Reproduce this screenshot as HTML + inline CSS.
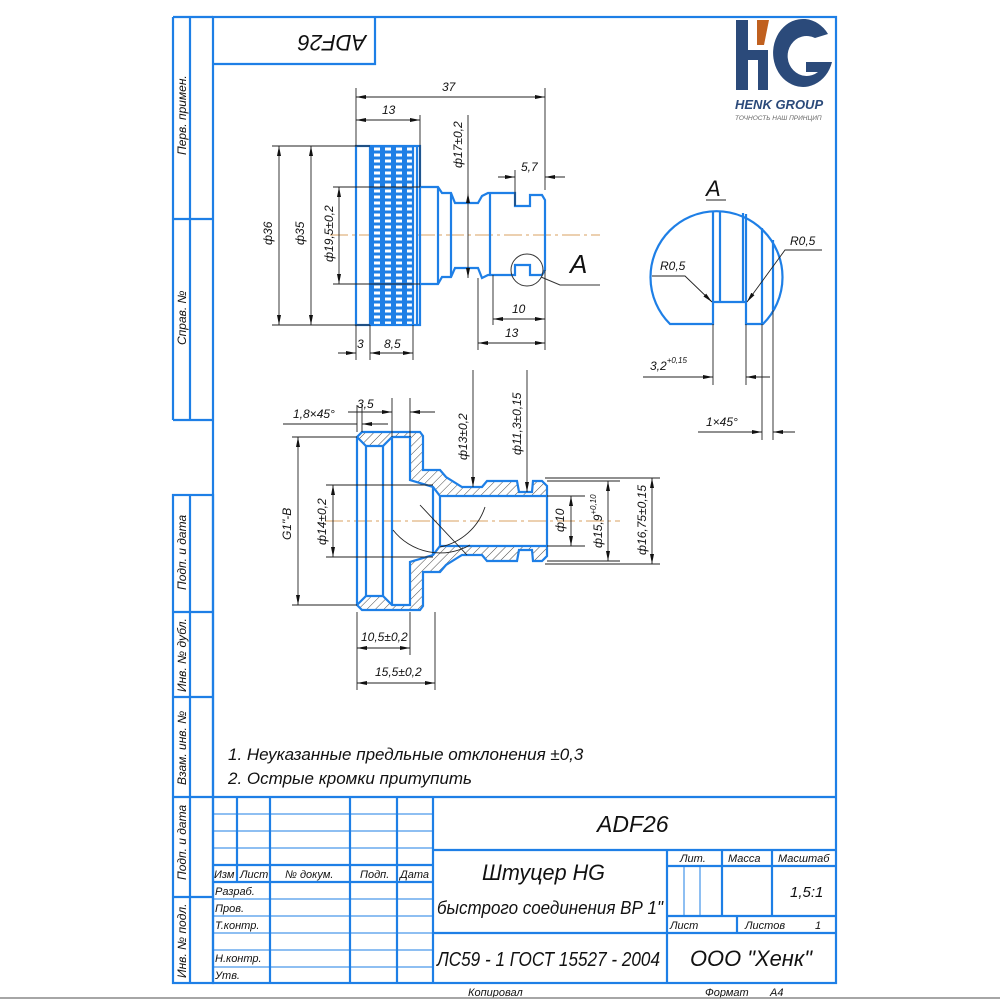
<!DOCTYPE html>
<html><head><meta charset="utf-8"><style>
html,body{margin:0;padding:0;background:#fff}
svg{display:block}
text{font-family:"Liberation Sans",sans-serif;font-style:italic;fill:#111}
</style></head><body>
<svg width="1000" height="1000" viewBox="0 0 1000 1000" xmlns="http://www.w3.org/2000/svg">
<defs>
<pattern id="h" width="6" height="6" patternUnits="userSpaceOnUse" patternTransform="rotate(45)">
<line x1="0" y1="0" x2="0" y2="6" stroke="#333" stroke-width="0.9"/></pattern>
<pattern id="k" x="371" y="146" width="11" height="6" patternUnits="userSpaceOnUse">
<rect x="0" y="0" width="11" height="6" fill="#1e7fe6"/><rect x="3" y="1.5" width="6" height="3" fill="#fff"/></pattern>
<marker id="a" viewBox="0 0 10 4" refX="10" refY="2" markerWidth="10" markerHeight="4" orient="auto-start-reverse" markerUnits="userSpaceOnUse"><path d="M0,0L10,2L0,4z" fill="#111"/></marker>
</defs>
<g fill="none" stroke="#1e7fe6" stroke-width="2.2">
<rect x="213" y="17" width="623" height="966"/>
<line x1="173" y1="17" x2="213" y2="17"/><line x1="173" y1="17" x2="173" y2="420"/><line x1="190" y1="17" x2="190" y2="420"/>
<line x1="173" y1="219" x2="213" y2="219"/><line x1="173" y1="420" x2="213" y2="420"/>
<rect x="173" y="495" width="40" height="488"/><line x1="190" y1="495" x2="190" y2="983"/>
<line x1="173" y1="612" x2="213" y2="612"/><line x1="173" y1="697" x2="213" y2="697"/><line x1="173" y1="797" x2="213" y2="797"/><line x1="173" y1="897" x2="213" y2="897"/>
<polyline points="213,64 375,64 375,17"/>
<line x1="213" y1="797" x2="836" y2="797"/><line x1="433" y1="850" x2="836" y2="850"/>
<line x1="433" y1="797" x2="433" y2="983"/>
<line x1="237" y1="797" x2="237" y2="882"/><line x1="270" y1="797" x2="270" y2="983"/><line x1="350" y1="797" x2="350" y2="983"/><line x1="397" y1="797" x2="397" y2="983"/>
<line x1="213" y1="865" x2="433" y2="865"/><line x1="213" y1="882" x2="433" y2="882"/>
<line x1="433" y1="933" x2="836" y2="933"/><line x1="667" y1="850" x2="667" y2="983"/>
<line x1="722" y1="850" x2="722" y2="916"/><line x1="772" y1="850" x2="772" y2="916"/>
<line x1="667" y1="866" x2="836" y2="866"/><line x1="667" y1="916" x2="836" y2="916"/><line x1="737" y1="916" x2="737" y2="933"/>
</g>
<g stroke="#1e7fe6" stroke-width="1">
<line x1="213" y1="814" x2="433" y2="814"/><line x1="213" y1="831" x2="433" y2="831"/><line x1="213" y1="848" x2="433" y2="848"/>
<line x1="213" y1="899" x2="433" y2="899"/><line x1="213" y1="916" x2="433" y2="916"/><line x1="213" y1="933" x2="433" y2="933"/><line x1="213" y1="950" x2="433" y2="950"/><line x1="213" y1="967" x2="433" y2="967"/>
<line x1="684" y1="866" x2="684" y2="916"/><line x1="700" y1="866" x2="700" y2="916"/>
</g>
<line x1="330" y1="235" x2="600" y2="235" stroke="#d8a060" stroke-width="1" stroke-dasharray="18,4,3,4"/>
<rect x="370" y="146" width="43" height="179" fill="url(#k)"/>
<g fill="none" stroke="#1e7fe6" stroke-width="2.2">
<rect x="356" y="146" width="64" height="179"/>
<line x1="370" y1="146" x2="370" y2="325"/><line x1="413" y1="146" x2="413" y2="325"/><line x1="417" y1="146" x2="417" y2="325"/>
<path d="M420,187H438L442,193H451L455,203H478L482,196L488,193H515V206H530V195H542L545,200V270L542,275H530V265H515V275H488L482,278L478,268H455L451,277H442L438,284H420"/>
<line x1="438" y1="187" x2="438" y2="284"/><line x1="451" y1="193" x2="451" y2="277"/><line x1="490" y1="193" x2="490" y2="275"/>
</g>
<circle cx="527" cy="270" r="16" fill="none" stroke="#333" stroke-width="1"/>
<polyline points="541,277 560,285 600,285" fill="none" stroke="#333" stroke-width="1"/>
<text x="570" y="273" font-size="26" font-style="normal">A</text>
<g stroke="#222" stroke-width="0.9" fill="none">
<line x1="356" y1="88" x2="356" y2="146"/><line x1="545" y1="88" x2="545" y2="190"/><line x1="420" y1="115" x2="420" y2="187"/>
<line x1="356" y1="97" x2="545" y2="97" marker-start="url(#a)" marker-end="url(#a)"/>
<line x1="356" y1="120" x2="420" y2="120" marker-start="url(#a)" marker-end="url(#a)"/>
<line x1="272" y1="146" x2="370" y2="146"/><line x1="272" y1="325" x2="370" y2="325"/>
<line x1="279" y1="146" x2="279" y2="325" marker-start="url(#a)" marker-end="url(#a)"/>
<line x1="311" y1="146" x2="311" y2="325" marker-start="url(#a)" marker-end="url(#a)"/>
<line x1="333" y1="187" x2="420" y2="187"/><line x1="333" y1="284" x2="420" y2="284"/>
<line x1="339" y1="187" x2="339" y2="284" marker-start="url(#a)" marker-end="url(#a)"/>
<line x1="468" y1="115" x2="468" y2="193"/><line x1="468" y1="193" x2="468" y2="278" marker-start="url(#a)" marker-end="url(#a)"/>
<line x1="515" y1="170" x2="515" y2="206"/>
<line x1="498" y1="177" x2="515" y2="177" marker-end="url(#a)"/><line x1="545" y1="177" x2="565" y2="177" marker-start="url(#a)"/>
<line x1="493" y1="275" x2="493" y2="325"/><line x1="478" y1="278" x2="478" y2="350"/><line x1="545" y1="270" x2="545" y2="350"/>
<line x1="493" y1="319" x2="545" y2="319" marker-start="url(#a)" marker-end="url(#a)"/>
<line x1="478" y1="343" x2="545" y2="343" marker-start="url(#a)" marker-end="url(#a)"/>
<line x1="356" y1="325" x2="356" y2="360"/><line x1="370" y1="325" x2="370" y2="360"/><line x1="413" y1="325" x2="413" y2="360"/>
<line x1="338" y1="353" x2="356" y2="353" marker-end="url(#a)"/><line x1="370" y1="353" x2="413" y2="353" marker-start="url(#a)" marker-end="url(#a)"/>
</g>
<g font-size="12">
<text x="442" y="91">37</text><text x="382" y="114">13</text>
<text x="272" y="245" transform="rotate(-90 272 245)">ф36</text>
<text x="304" y="245" transform="rotate(-90 304 245)">ф35</text>
<text x="333" y="262" transform="rotate(-90 333 262)">ф19,5±0,2</text>
<text x="462" y="168" transform="rotate(-90 462 168)">ф17±0,2</text>
<text x="521" y="171">5,7</text><text x="512" y="313">10</text><text x="505" y="337">13</text>
<text x="357" y="348">3</text><text x="384" y="348">8,5</text>
</g>
<line x1="325" y1="521" x2="620" y2="521" stroke="#d8a060" stroke-width="1" stroke-dasharray="18,4,3,4"/>
<g stroke="#1e7fe6" stroke-width="2.2" fill="url(#h)">
<path d="M362,432H420L423,436V470H440L446,477L462,487H482L487,481H517L519,492H532L533,481H542L547,486V496H440L433,487L410,480V437H392L383,446H366L357,437Z"/>
<path d="M362,610H420L423,606V572H440L446,565L462,555H482L487,561H517L519,550H532L533,561H542L547,556V546H440L433,555L410,562V605H392L383,596H366L357,605Z"/>
</g>
<g stroke="#1e7fe6" stroke-width="2.2" fill="none">
<line x1="357" y1="437" x2="357" y2="605"/><line x1="366" y1="446" x2="366" y2="596"/><line x1="383" y1="446" x2="383" y2="596"/><line x1="392" y1="437" x2="392" y2="605"/>
<line x1="433" y1="487" x2="433" y2="555"/><line x1="440" y1="496" x2="440" y2="546"/><line x1="547" y1="496" x2="547" y2="546"/>
</g>
<g stroke="#222" stroke-width="0.9" fill="none">
<path d="M393,530 A60,60 0 0 0 470,545"/><path d="M440,547 A60,60 0 0 0 485,507"/>
<line x1="420" y1="505" x2="467" y2="555"/>
<line x1="292" y1="437" x2="357" y2="437"/><line x1="292" y1="605" x2="357" y2="605"/>
<line x1="298" y1="437" x2="298" y2="605" marker-start="url(#a)" marker-end="url(#a)"/>
<line x1="326" y1="485" x2="433" y2="485"/><line x1="326" y1="557" x2="433" y2="557"/>
<line x1="333" y1="485" x2="333" y2="557" marker-start="url(#a)" marker-end="url(#a)"/>
<line x1="547" y1="496" x2="585" y2="496"/><line x1="547" y1="546" x2="585" y2="546"/>
<line x1="571" y1="496" x2="571" y2="546" marker-start="url(#a)" marker-end="url(#a)"/>
<line x1="547" y1="481" x2="620" y2="481"/><line x1="547" y1="561" x2="620" y2="561"/>
<line x1="608" y1="481" x2="608" y2="561" marker-start="url(#a)" marker-end="url(#a)"/>
<line x1="545" y1="478" x2="660" y2="478"/><line x1="545" y1="564" x2="660" y2="564"/>
<line x1="652" y1="478" x2="652" y2="564" marker-start="url(#a)" marker-end="url(#a)"/>
<line x1="473" y1="370" x2="473" y2="487" marker-end="url(#a)"/>
<line x1="527" y1="370" x2="527" y2="492" marker-end="url(#a)"/>
<line x1="357" y1="612" x2="357" y2="690"/><line x1="410" y1="612" x2="410" y2="655"/><line x1="435" y1="612" x2="435" y2="690"/>
<line x1="357" y1="648" x2="410" y2="648" marker-start="url(#a)" marker-end="url(#a)"/>
<line x1="357" y1="683" x2="435" y2="683" marker-start="url(#a)" marker-end="url(#a)"/>
<line x1="357" y1="405" x2="357" y2="432"/><line x1="362" y1="405" x2="362" y2="432"/><line x1="392" y1="398" x2="392" y2="437"/><line x1="410" y1="398" x2="410" y2="437"/>
<line x1="283" y1="424" x2="357" y2="424"/><line x1="362" y1="424" x2="388" y2="424" marker-start="url(#a)"/>
<line x1="348" y1="412" x2="392" y2="412" marker-end="url(#a)"/><line x1="410" y1="412" x2="435" y2="412" marker-start="url(#a)"/>
</g>
<g font-size="12">
<text x="293" y="418">1,8×45°</text><text x="357" y="408">3,5</text>
<text x="291" y="540" transform="rotate(-90 291 540)">G1"-B</text>
<text x="326" y="545" transform="rotate(-90 326 545)">ф14±0,2</text>
<text x="467" y="460" transform="rotate(-90 467 460)">ф13±0,2</text>
<text x="521" y="455" transform="rotate(-90 521 455)">ф11,3±0,15</text>
<text x="564" y="532" transform="rotate(-90 564 532)">ф10</text>
<text x="602" y="548" transform="rotate(-90 602 548)">ф15,9<tspan font-size="8" dy="-6">+0,10</tspan></text>
<text x="646" y="555" transform="rotate(-90 646 555)">ф16,75±0,15</text>
<text x="361" y="641">10,5±0,2</text><text x="375" y="676">15,5±0,2</text>
</g>
<text x="706" y="196" font-size="22" font-style="normal">A</text>
<line x1="706" y1="200" x2="726" y2="200" stroke="#222" stroke-width="1"/>
<g stroke="#1e7fe6" stroke-width="2.2" fill="none">
<path d="M670,324 A66,66 0 1 1 763,324 H746 V302 H713 V324 Z"/>
<line x1="713" y1="212" x2="713" y2="302"/><line x1="720" y1="211" x2="720" y2="302"/>
<line x1="743" y1="213" x2="743" y2="302"/><line x1="746" y1="214" x2="746" y2="302"/>
<line x1="762" y1="228" x2="762" y2="324"/><line x1="773" y1="240" x2="773" y2="310"/>
</g>
<g stroke="#222" stroke-width="0.9" fill="none">
<polyline points="652,276 685,276 712,302" marker-end="url(#a)"/>
<polyline points="822,250 785,250 747,302" marker-end="url(#a)"/>
<line x1="713" y1="324" x2="713" y2="385"/><line x1="746" y1="324" x2="746" y2="385"/><line x1="762" y1="324" x2="762" y2="440"/><line x1="773" y1="310" x2="773" y2="440"/>
<line x1="643" y1="377" x2="713" y2="377" marker-end="url(#a)"/><line x1="746" y1="377" x2="770" y2="377" marker-start="url(#a)"/>
<line x1="698" y1="432" x2="762" y2="432" marker-end="url(#a)"/><line x1="773" y1="432" x2="795" y2="432" marker-start="url(#a)"/>
</g>
<g font-size="12"><text x="660" y="270">R0,5</text><text x="790" y="245">R0,5</text>
<text x="650" y="370">3,2<tspan font-size="8" dy="-7">+0,15</tspan></text><text x="706" y="426">1×45°</text></g>
<g>
<rect x="736" y="20" width="12" height="70" fill="#2b4a7a"/><rect x="758" y="50" width="10" height="40" fill="#2b4a7a"/>
<rect x="736" y="50" width="30" height="10" fill="#2b4a7a"/>
<polygon points="757,20 769,20 764,45 757,45" fill="#c0601f"/>
<path d="M828,34 A30,34 0 1 0 832,62 H806 V72 H818 A19,20 0 1 1 815,38 Z" fill="#2b4a7a"/>
<text x="735" y="109" font-size="13" font-weight="bold" font-style="normal" style="fill:#2b4a7a">HENK GROUP</text>
<text x="735" y="120" font-size="6.5" font-style="normal" style="fill:#666">ТОЧНОСТЬ НАШ ПРИНЦИП</text>
</g>
<text x="332" y="45" font-size="22" text-anchor="middle" transform="rotate(180 332 40)">ADF26</text>
<text x="186" y="155" font-size="12" transform="rotate(-90 186 155)">Перв. примен.</text>
<text x="186" y="345" font-size="12" transform="rotate(-90 186 345)">Справ. №</text>
<text x="186" y="590" font-size="12" transform="rotate(-90 186 590)">Подп. и дата</text>
<text x="186" y="692" font-size="12" transform="rotate(-90 186 692)">Инв. № дубл.</text>
<text x="186" y="785" font-size="12" transform="rotate(-90 186 785)">Взам. инв. №</text>
<text x="186" y="880" font-size="12" transform="rotate(-90 186 880)">Подп. и дата</text>
<text x="186" y="978" font-size="12" transform="rotate(-90 186 978)">Инв. № подл.</text>
<text x="228" y="760" font-size="17">1. Неуказанные предльные отклонения ±0,3</text>
<text x="228" y="784" font-size="17">2. Острые кромки притупить</text>
<text x="597" y="832" font-size="23">ADF26</text>
<g font-size="11"><text x="214" y="878">Изм</text><text x="240" y="878">Лист</text><text x="285" y="878">№ докум.</text><text x="360" y="878">Подп.</text><text x="400" y="878">Дата</text>
<text x="215" y="895">Разраб.</text><text x="215" y="912">Пров.</text><text x="215" y="929">Т.контр.</text><text x="215" y="962">Н.контр.</text><text x="215" y="979">Утв.</text>
<text x="680" y="862">Лит.</text><text x="728" y="862">Масса</text><text x="778" y="862">Масштаб</text>
<text x="670" y="929">Лист</text><text x="745" y="929">Листов</text><text x="815" y="929">1</text>
<text x="468" y="996">Копировал</text><text x="705" y="996">Формат</text><text x="770" y="996">А4</text></g>
<text x="790" y="897" font-size="15">1,5:1</text>
<text x="482" y="880" font-size="22" textLength="123" lengthAdjust="spacingAndGlyphs">Штуцер HG</text>
<text x="437" y="914" font-size="18" textLength="226" lengthAdjust="spacingAndGlyphs">быстрого соединения ВР 1"</text>
<text x="437" y="966" font-size="20" textLength="223" lengthAdjust="spacingAndGlyphs">ЛС59 - 1 ГОСТ 15527 - 2004</text>
<text x="690" y="966" font-size="22" textLength="122" lengthAdjust="spacingAndGlyphs">ООО "Хенк"</text>
<line x1="0" y1="998" x2="1000" y2="998" stroke="#888" stroke-width="1.5"/>
</svg>
</body></html>
